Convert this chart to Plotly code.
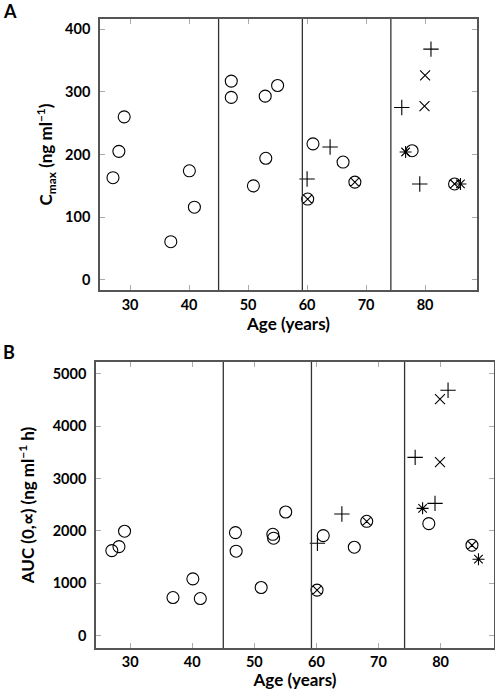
import plotly.graph_objects as go

# ---- Panel A: Cmax (ng/ml) vs age ----
a_circle_age = [27.1, 28.1, 29.0, 36.9, 40.05, 40.9, 47.15, 47.15, 50.9, 52.9, 55.0, 53.0, 61.0, 66.1, 77.8]
a_circle_val = [163, 205, 260, 61, 174, 116, 317, 291, 150, 293, 310, 194, 217, 188, 206]
a_otimes_age = [60.1, 68.1, 85.0]
a_otimes_val = [129, 156, 153]
a_plus_age = [60.0, 63.9, 76.05, 81.0, 79.1]
a_plus_val = [161, 212, 275, 368, 153]
a_x_age = [80.0, 79.9]
a_x_val = [326, 277]
a_star_age = [76.7, 86.0]
a_star_val = [204, 153]

# ---- Panel B: AUC(0,inf) (ng/ml h) vs age ----
b_circle_age = [27.05, 28.2, 29.1, 36.9, 40.1, 41.3, 46.96, 47.07, 51.1, 52.98, 53.1, 55.05, 61.1, 66.1, 78.1]
b_circle_val = [1624, 1700, 1993, 729, 1085, 710, 1967, 1612, 920, 1935, 1860, 2360, 1910, 1688, 2138]
b_otimes_age = [60.1, 68.1, 85.05]
b_otimes_val = [870, 2183, 1726]
b_plus_age = [60.16, 64.1, 75.9, 79.1, 81.2]
b_plus_val = [1764, 2322, 3401, 2525, 4683]
b_x_age = [79.9, 79.9]
b_x_val = [4512, 3312]
b_star_age = [77.1, 86.1]
b_star_val = [2430, 1460]

group_boundaries = [45, 59.2, 74.2]
x_ticks = [30, 40, 50, 60, 70, 80]
a_y_ticks = [0, 100, 200, 300, 400]
b_y_ticks = [0, 1000, 2000, 3000, 4000, 5000]

fig = go.Figure()

def add_series(xs, ys, symbol, size, xa, ya):
    fig.add_trace(go.Scatter(
        x=xs, y=ys, mode="markers", xaxis=xa, yaxis=ya, showlegend=False,
        marker=dict(symbol=symbol, size=size, color="black",
                    line=dict(color="black", width=1.1)),
        hoverinfo="x+y"))

specs = [("circle-open", 12), ("circle-x-open", 12), ("cross-thin-open", 11),
         ("x-thin-open", 10), ("asterisk-open", 10)]
for xa, ya, data in [
    ("x", "y", [(a_circle_age, a_circle_val), (a_otimes_age, a_otimes_val), (a_plus_age, a_plus_val),
                (a_x_age, a_x_val), (a_star_age, a_star_val)]),
    ("x2", "y2", [(b_circle_age, b_circle_val), (b_otimes_age, b_otimes_val), (b_plus_age, b_plus_val),
                  (b_x_age, b_x_val), (b_star_age, b_star_val)]),
]:
    for (xs, ys), (sym, sz) in zip(data, specs):
        add_series(xs, ys, sym, sz, xa, ya)

frame = "#555555"
tickc = "#aaaaaa"
tickfont = dict(family="Lato", size=14.5, color="black", weight="bold")
titlefont = dict(family="Lato", size=17, color="black", weight="bold")

def xaxis(dom, anchor, rng, standoff, lblstand):
    return dict(domain=dom, anchor=anchor, range=rng, tickvals=x_ticks, automargin=False,
                ticks="inside", ticklen=5, tickcolor=tickc, showline=True, linecolor=frame,
                linewidth=1.5, mirror="ticks", showgrid=False, zeroline=False, tickfont=tickfont,
                ticklabelstandoff=lblstand,
                title=dict(text="Age (years)", font=titlefont, standoff=standoff))

def yaxis(dom, anchor, rng, ticks, title, standoff):
    return dict(domain=dom, anchor=anchor, range=rng, tickvals=ticks, automargin=False,
                ticks="inside", ticklen=5, tickcolor=tickc, showline=True, linecolor=frame,
                linewidth=1.5, mirror="ticks", showgrid=False, zeroline=False, tickfont=tickfont,
                ticklabelstandoff=5,
                title=dict(text=title, font=titlefont, standoff=standoff))

fig.update_layout(
    width=495, height=690, margin=dict(l=0, r=0, t=0, b=0),
    plot_bgcolor="white", paper_bgcolor="white",
    xaxis=xaxis([100/495, 477/495], "y", [24.9, 88.8], 4, 1),
    yaxis=yaxis([1-290/690, 1-19/690], "x", [-16, 416], a_y_ticks,
                "C<sub>max</sub> (ng ml<sup>−1</sup>)", 8),
    xaxis2=xaxis([96/495, 494/495], "y2", [24.5, 88.6], 4, 0),
    yaxis2=yaxis([1-648/690, 1-362/690], "x2", [-234, 5221], b_y_ticks,
                 "AUC (0,∝) (ng ml<sup>−1</sup> h)", 14),
)

for xref, yref in [("x", "y domain"), ("x2", "y2 domain")]:
    for bx in group_boundaries:
        fig.add_shape(type="line", xref=xref, yref=yref, x0=bx, x1=bx, y0=0, y1=1,
                      line=dict(color="#333333", width=1.3))

for txt, ypos in [("A", 1-11/690), ("B", 1-352/690)]:
    fig.add_annotation(text=txt, xref="paper", yref="paper", x=1/495, y=ypos,
                       xanchor="left", yanchor="middle", showarrow=False,
                       font=dict(family="Lato", size=18, color="black", weight="bold"))

fig.write_html("out.html", config={"displayModeBar": False},
               post_script="document.body.style.margin='0px';document.body.style.overflow='hidden';")
